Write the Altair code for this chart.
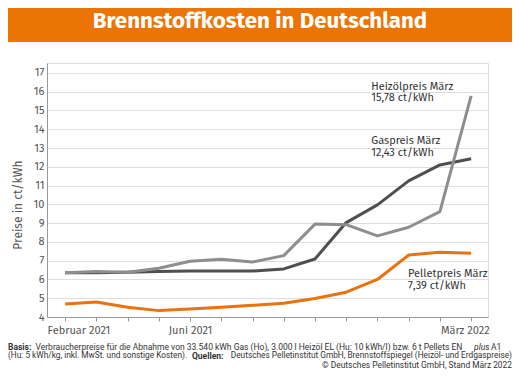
import altair as alt
import pandas as pd

months = ["Feb 2021", "Mär 2021", "Apr 2021", "Mai 2021", "Jun 2021", "Jul 2021", "Aug 2021",
          "Sep 2021", "Okt 2021", "Nov 2021", "Dez 2021", "Jan 2022", "Feb 2022", "Mär 2022"]
gas = [6.36, 6.36, 6.38, 6.43, 6.45, 6.45, 6.45, 6.56, 7.09, 9.03, 9.97, 11.25, 12.10, 12.43]
heizoel = [6.36, 6.42, 6.38, 6.60, 6.97, 7.07, 6.93, 7.27, 8.95, 8.92, 8.32, 8.78, 9.61, 15.78]
pellet = [4.69, 4.80, 4.52, 4.34, 4.43, 4.52, 4.62, 4.73, 4.99, 5.32, 6.00, 7.30, 7.45, 7.39]

series_names = ["Gaspreis", "Heizölpreis", "Pelletpreis"]
series_colors = ["#4f4f4f", "#8e8e8e", "#e8730f"]

tick_label_pos = [0, 4, 13]
tick_label_txt = ["Februar 2021", "Juni 2021", "März 2022"]
y_ticks = list(range(4, 18))

ann_x = [9.8, 9.8, 9.8, 9.8, 10.98, 10.98]
ann_y = [16.25, 15.67, 13.38, 12.74, 6.29, 5.65]
ann_t = ["Heizölpreis März", "15,78 ct/kWh", "Gaspreis März", "12,43 ct/kWh",
         "Pelletpreis März", "7,39 ct/kWh"]

FONT = "Fira Sans, Lato, Open Sans, sans-serif"
SMALL = "Roboto, sans-serif"

rows = []
for name, vals in zip(series_names, [gas, heizoel, pellet]):
    for i, (m, v) in enumerate(zip(months, vals)):
        rows.append({"i": i, "monat": m, "serie": name, "v": v})
df = pd.DataFrame(rows)

W, H = 441, 254
OX, OY = 47, 63  # plot origin in page coords

x_scale = alt.Scale(domain=[-0.58, 13.54], nice=False, zero=False)
y_scale = alt.Scale(domain=[4, 17.53], nice=False, zero=False)

expr = " : ".join(f"datum.value == {p} ? '{t}'" for p, t in zip(tick_label_pos, tick_label_txt)) + " : ''"

x_axis = alt.Axis(values=list(range(len(months))), labelExpr=expr, grid=False,
                  tickSize=4, tickColor="#999", domainColor="#999", labelColor="#555",
                  labelFontSize=11, labelFont=FONT, labelPadding=3,
                  labelFlush=20, labelFlushOffset=18, labelOverlap=False)
y_axis = alt.Axis(values=y_ticks, grid=True, gridColor="#dedede", ticks=False,
                  domainColor="#999", labelColor="#555", labelFontSize=11,
                  labelFont=FONT, labelPadding=3, labelOverlap=False)

def X():
    return alt.X("i:Q", scale=x_scale, title=None, axis=x_axis)

def Y():
    return alt.Y("v:Q", scale=y_scale, title=None, axis=y_axis)

base = alt.Chart(df).encode(
    x=X(), y=Y(),
    color=alt.Color("serie:N", scale=alt.Scale(domain=series_names, range=series_colors), legend=None),
)

layers = []
for name in series_names:
    layers.append(base.transform_filter(alt.datum.serie == name).mark_line(strokeWidth=3, strokeJoin="round"))

ann_df = pd.DataFrame({"i": ann_x, "v": ann_y, "t": ann_t})
ann = alt.Chart(ann_df).mark_text(align="left", baseline="middle", fontSize=11, font=FONT, color="#333").encode(
    x=X(), y=Y(), text="t:N")

def txt(t, px, py, **kw):
    d = pd.DataFrame({"t": [t]})
    return alt.Chart(d).mark_text(**kw).encode(
        x=alt.value(px - OX), y=alt.value(py - OY), text="t:N")

bar_df = pd.DataFrame({"a": [0]})
bar = alt.Chart(bar_df).mark_rect(color="#ec7404").encode(
    x=alt.value(-OX), x2=alt.value(520 - OX), y=alt.value(-OY), y2=alt.value(42 - OY))

title = txt("Brennstoffkosten in Deutschland", 260, 27.5, align="center", baseline="alphabetic",
            fontSize=22.3, font=FONT, fontWeight="bold", color="white")
ytitle = txt("Preise in ct/kWh", 18, 205, align="center", baseline="middle", angle=270,
             fontSize=12, font=FONT, color="#555")

L1, L2, L3 = 346.5, 355.5, 364.5
common = dict(baseline="middle", font=SMALL, color="#333")
foot = [
    txt("Basis:", 8, L1, align="left", fontWeight="bold", fontSize=8.5, **common),
    txt("Verbraucherpreise für die Abnahme von 33.540 kWh Gas (Ho), 3.000 l Heizöl EL (Hu: 10 kWh/l) bzw. 6 t Pellets EN",
        35.5, L1, align="left", fontSize=8.5, **common),
    txt("plus", 474, L1, align="left", fontStyle="italic", fontSize=8.5, **common),
    txt("A1", 491, L1, align="left", fontSize=8.5, **common),
    txt("(Hu: 5 kWh/kg, inkl. MwSt. und sonstige Kosten).", 8, L2, align="left", fontSize=8.3, **common),
    txt("Quellen:", 192, L2, align="left", fontWeight="bold", fontSize=8.5, **common),
    txt("Deutsches Pelletinstitut GmbH, Brennstoffspiegel (Heizöl- und Erdgaspreise)", 512, L2, align="right",
        fontSize=8.3, **common),
    txt("© Deutsches Pelletinstitut GmbH, Stand März 2022", 512, L3, align="right", fontSize=8.4, **common),
]

chart = alt.layer(bar, title, ytitle, *layers, ann, *foot).properties(
    width=W, height=H,
    autosize=alt.AutoSizeParams(type="none"),
    padding={"left": OX - 8, "top": OY - 8, "right": 504 - (OX - 8) - W, "bottom": 364 - (OY - 8) - H},
).configure_view(stroke=None).configure(background="white")

chart.save("out.html", embed_options={"renderer": "svg", "actions": False})
